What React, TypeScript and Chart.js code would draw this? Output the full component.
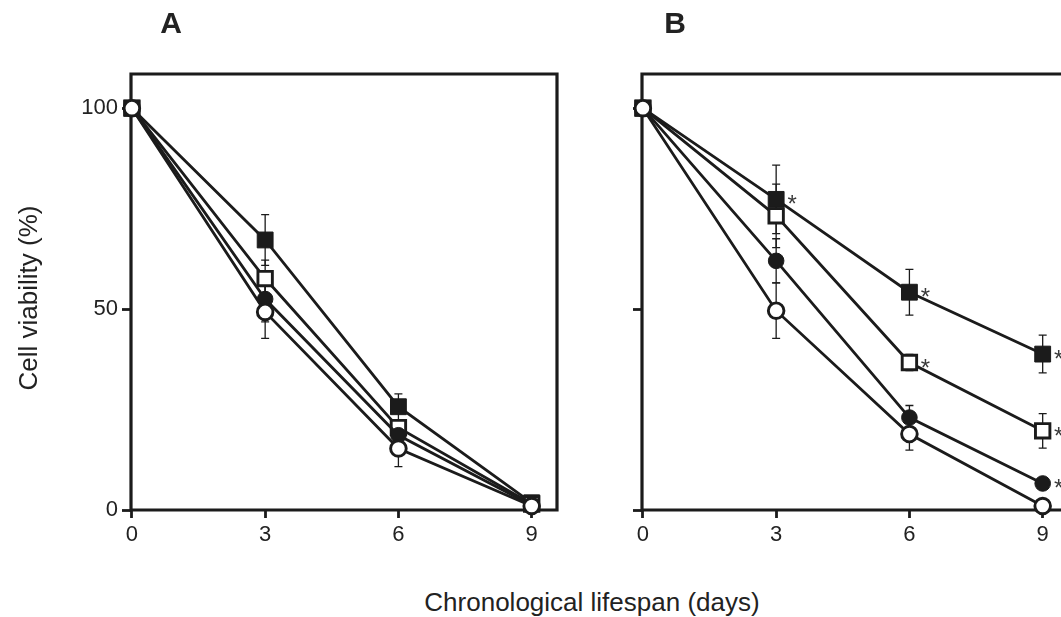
import React, { useEffect, useRef } from "react";
import { Chart, registerables } from "chart.js";
Chart.register(...registerables);

// ---------- data ----------
const days = [0, 3, 6, 9];
const xTickValues = [0, 3, 6, 9];
const yTickValues = [0, 50, 100];

// Panel A
const aFilledSquare = [100, 67.2, 25.7, 1.8];
const aFilledSquareErr = [0, 6.3, 3.2, 0];
const aOpenSquare = [100, 57.6, 20.5, 1.5];
const aOpenSquareErr = [0, 4.6, 2, 0];
const aFilledCircle = [100, 52.5, 18.6, 1.2];
const aFilledCircleErr = [0, 5.7, 2, 0];
const aOpenCircle = [100, 49.3, 15.3, 1.0];
const aOpenCircleErr = [0, 6.6, 4.5, 0];

// Panel B
const bFilledSquare = [100, 77.3, 54.2, 38.8];
const bFilledSquareErr = [0, 8.5, 5.7, 4.7];
const bOpenSquare = [100, 73.2, 36.7, 19.7];
const bOpenSquareErr = [0, 7.9, 2, 4.3];
const bFilledCircle = [100, 62.0, 23.0, 6.6];
const bFilledCircleErr = [0, 5.5, 3, 0.8];
const bOpenCircle = [100, 49.6, 18.9, 1.0];
const bOpenCircleErr = [0, 6.9, 4, 0.5];

// significance marks (indices of days with "*")
const bFilledSquareStars = [1, 2, 3];
const bOpenSquareStars = [2, 3];
const bFilledCircleStars = [3];

const INK = "#1b1b1b";
const FONT = "'Liberation Sans', Arial, Helvetica, sans-serif";

type Series = {
  label: string;
  values: number[];
  errors: number[];
  stars: number[];
  shape: "rect" | "circle";
  filled: boolean;
};

const panelA: Series[] = [
  { label: "open circle", values: aOpenCircle, errors: aOpenCircleErr, stars: [], shape: "circle", filled: false },
  { label: "filled circle", values: aFilledCircle, errors: aFilledCircleErr, stars: [], shape: "circle", filled: true },
  { label: "open square", values: aOpenSquare, errors: aOpenSquareErr, stars: [], shape: "rect", filled: false },
  { label: "filled square", values: aFilledSquare, errors: aFilledSquareErr, stars: [], shape: "rect", filled: true },
];

const panelB: Series[] = [
  { label: "open circle", values: bOpenCircle, errors: bOpenCircleErr, stars: [], shape: "circle", filled: false },
  { label: "filled circle", values: bFilledCircle, errors: bFilledCircleErr, stars: bFilledCircleStars, shape: "circle", filled: true },
  { label: "open square", values: bOpenSquare, errors: bOpenSquareErr, stars: bOpenSquareStars, shape: "rect", filled: false },
  { label: "filled square", values: bFilledSquare, errors: bFilledSquareErr, stars: bFilledSquareStars, shape: "rect", filled: true },
];

// ---------- plugins ----------
const framePlugin = {
  id: "frame",
  beforeDatasetsDraw(chart: any) {
    const { ctx, chartArea } = chart;
    const { left, right, top, bottom } = chartArea;
    ctx.save();
    ctx.strokeStyle = INK;
    ctx.lineWidth = 3.2;
    ctx.beginPath();
    ctx.moveTo(left, bottom + 1.6);
    ctx.lineTo(left, top);
    ctx.lineTo(right, top);
    ctx.lineTo(right, bottom);
    ctx.moveTo(left - 1.6, bottom);
    ctx.lineTo(right + 1.6, bottom);
    ctx.stroke();
    ctx.restore();
  },
};

const errorPlugin = {
  id: "errbars",
  beforeDatasetsDraw(chart: any) {
    const { ctx } = chart;
    const xs = chart.scales.x;
    const ys = chart.scales.y;
    ctx.save();
    ctx.strokeStyle = INK;
    ctx.lineWidth = 1.3;
    chart.data.datasets.forEach((ds: any) => {
      const errs: number[] = ds.errors || [];
      ds.data.forEach((p: any, i: number) => {
        const e = errs[i];
        if (!e) return;
        const x = xs.getPixelForValue(p.x);
        const y1 = ys.getPixelForValue(p.y + e);
        const y2 = ys.getPixelForValue(p.y - e);
        ctx.beginPath();
        ctx.moveTo(x, y1);
        ctx.lineTo(x, y2);
        ctx.moveTo(x - 4, y1);
        ctx.lineTo(x + 4, y1);
        ctx.moveTo(x - 4, y2);
        ctx.lineTo(x + 4, y2);
        ctx.stroke();
      });
    });
    ctx.restore();
  },
};

const starPlugin = {
  id: "stars",
  afterDatasetsDraw(chart: any) {
    const { ctx } = chart;
    const xs = chart.scales.x;
    const ys = chart.scales.y;
    ctx.save();
    ctx.fillStyle = "#3a3a3a";
    ctx.font = `24px ${FONT}`;
    ctx.textAlign = "center";
    ctx.textBaseline = "alphabetic";
    chart.data.datasets.forEach((ds: any) => {
      (ds.stars || []).forEach((i: number) => {
        const p = ds.data[i];
        const x = xs.getPixelForValue(p.x);
        const y = ys.getPixelForValue(p.y);
        ctx.fillText("*", x + 16, y + 13);
      });
    });
    ctx.restore();
  },
};

function buildConfig(series: Series[], showYLabels: boolean): any {
  return {
    type: "line",
    data: {
      datasets: series.map((s) => ({
        label: s.label,
        data: days.map((d, i) => ({ x: d, y: s.values[i] })),
        errors: s.errors,
        stars: s.stars,
        borderColor: INK,
        borderWidth: 2.8,
        tension: 0,
        clip: false,
        pointStyle: s.shape,
        pointRadius: s.shape === "rect" ? (s.filled ? 11.2 : 10.2) : 7.8,
        pointBorderWidth: s.filled ? 1 : 2.9,
        pointBackgroundColor: s.filled ? INK : "#ffffff",
        pointBorderColor: INK,
        pointHoverRadius: s.shape === "rect" ? 10 : 7,
      })),
    },
    options: {
      responsive: false,
      animation: false,
      events: [],
      layout: { padding: { left: 0, top: 74, right: 23, bottom: 0 } },
      plugins: { legend: { display: false }, tooltip: { enabled: false } },
      scales: {
        x: {
          type: "linear",
          min: -0.02,
          max: 9.57,
          afterBuildTicks: (s: any) => {
            s.ticks = xTickValues.map((v) => ({ value: v }));
          },
          afterFit: (s: any) => {
            s.height = 70;
          },
          border: { display: false },
          grid: { drawOnChartArea: false, drawTicks: true, tickLength: 8, tickWidth: 2.8, tickColor: INK },
          ticks: { color: "#222", font: { family: FONT, size: 22 }, padding: 4, maxRotation: 0, autoSkip: false },
        },
        y: {
          type: "linear",
          min: 0,
          max: 108.5,
          afterBuildTicks: (s: any) => {
            s.ticks = yTickValues.map((v) => ({ value: v }));
          },
          afterFit: (s: any) => {
            s.width = 131;
          },
          border: { display: false },
          grid: { drawOnChartArea: false, drawTicks: true, tickLength: 9, tickWidth: 2.8, tickColor: INK },
          ticks: {
            color: "#222",
            font: { family: FONT, size: 22 },
            padding: 4,
            callback: (v: any) => (showYLabels ? String(v) : ""),
          },
        },
      },
    },
    plugins: [framePlugin, errorPlugin, starPlugin],
  };
}

function Panel({ series, showYLabels, left }: { series: Series[]; showYLabels: boolean; left: number }) {
  const ref = useRef<HTMLCanvasElement | null>(null);
  useEffect(() => {
    if (!ref.current) return;
    const chart = new Chart(ref.current, buildConfig(series, showYLabels));
    return () => chart.destroy();
  }, []);
  return (
    <canvas
      ref={ref}
      width={580}
      height={580}
      style={{ position: "absolute", left, top: 0, width: 580, height: 580 }}
    />
  );
}

export default function App() {
  const text: React.CSSProperties = { position: "absolute", fontFamily: FONT, color: "#222", whiteSpace: "nowrap" };
  return (
    <div style={{ position: "absolute", left: 0, top: 0, width: 1061, height: 617, overflow: "hidden", background: "#fff" }}>
      <Panel series={panelA} showYLabels={true} left={0} />
      <Panel series={panelB} showYLabels={false} left={511} />
      <div style={{ ...text, left: 141, top: 8, width: 60, textAlign: "center", fontSize: 30, lineHeight: "30px", fontWeight: "bold" }}>A</div>
      <div style={{ ...text, left: 645, top: 8, width: 60, textAlign: "center", fontSize: 30, lineHeight: "30px", fontWeight: "bold" }}>B</div>
      <div style={{ ...text, left: 392, top: 589, width: 400, textAlign: "center", fontSize: 26, lineHeight: "26px" }}>
        Chronological lifespan (days)
      </div>
      <div
        style={{
          ...text,
          left: 28 - 150,
          top: 298 - 15,
          width: 300,
          height: 30,
          textAlign: "center",
          fontSize: 26,
          lineHeight: "30px",
          transform: "rotate(-90deg)",
        }}
      >
        Cell viability (%)
      </div>
    </div>
  );
}
